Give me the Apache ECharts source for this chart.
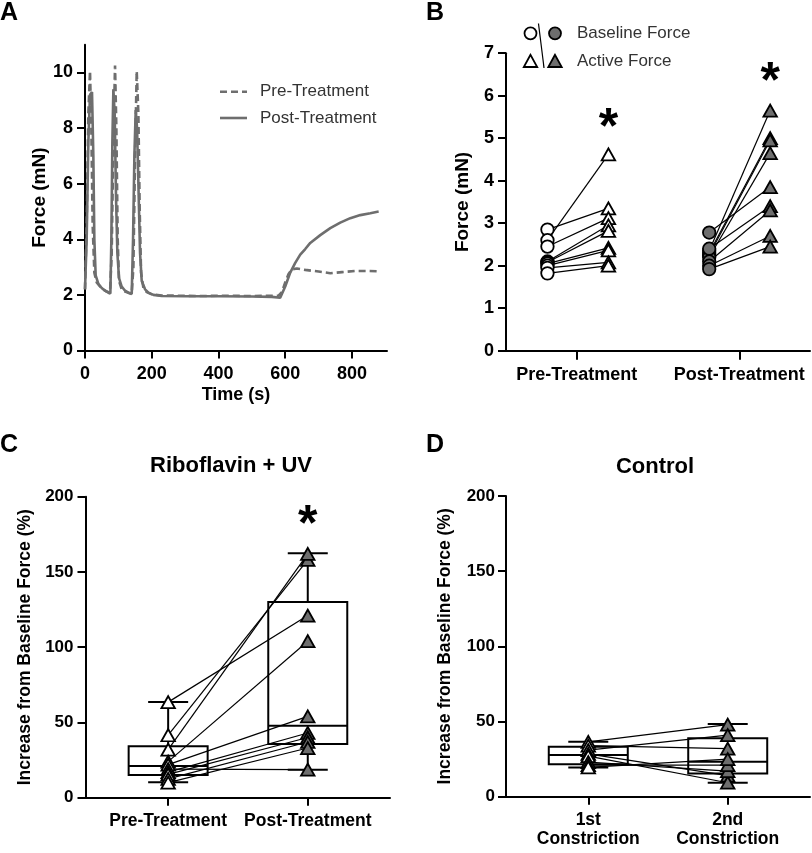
<!DOCTYPE html>
<html>
<head>
<meta charset="utf-8">
<script src="https://cdn.jsdelivr.net/npm/echarts@6/dist/echarts.min.js"></script>
<style>html,body{margin:0;padding:0;background:#fff}#chart{width:812px;height:853px}</style>
</head>
<body>
<div id="chart"></div>
<script>
// ---------- Panel A: force traces ----------
const preTime  = [0,5,10,15,19,23,28,35,45,55,65,75,80,85,90,94,98,102,110,120,130,140,145,150,155,160,164,168,175,185,200,230,280,350,420,500,560,580,590,600,610,620,635,660,700,735,770,810,850,880];
const preForce = [2.2,4.5,8.5,10.05,8.0,4.5,2.8,2.45,2.3,2.2,2.12,2.08,3.5,7.5,10.25,8.0,4.0,2.5,2.2,2.12,2.08,2.05,3.0,7.0,10.05,8.5,5.0,2.8,2.25,2.1,2.02,1.98,1.97,1.96,1.97,1.96,1.97,1.97,2.1,2.45,2.75,2.92,2.95,2.9,2.84,2.78,2.82,2.86,2.86,2.85];
const postTime  = [0,5,10,15,21,25,28,32,40,50,60,70,76,79,82,85,89,93,97,102,110,120,130,140,144,148,152,156,160,165,170,180,190,205,230,300,400,500,560,585,600,615,630,645,660,675,705,735,765,795,825,855,880];
const postForce = [2.2,4.0,7.5,9.2,9.3,7.0,4.0,2.7,2.4,2.25,2.15,2.08,2.05,4.0,7.5,9.4,8.5,5.5,3.5,2.6,2.3,2.15,2.08,2.03,4.0,7.0,8.65,8.0,6.0,3.5,2.5,2.2,2.08,2.0,1.96,1.95,1.95,1.94,1.93,1.9,2.3,2.8,3.15,3.45,3.65,3.87,4.15,4.4,4.6,4.76,4.87,4.94,5.0];
const timeTicks = [0,200,400,600,800];
const forceTicksA = [0,2,4,6,8,10];
const traceNames = ['Pre-Treatment','Post-Treatment'];

// ---------- Panel B: baseline vs active force ----------
const bCategories = ['Pre-Treatment','Post-Treatment'];
const bCatPos = [1,3];
const bPreBase     = [2.85,2.6,2.45,2.1,2.08,2.05,2.0,1.95,1.82];
const bPreActive   = [3.35,4.62,3.12,2.95,2.82,2.42,2.36,2.08,2.0];
const bPostBase    = [2.78,2.35,2.3,2.25,2.2,2.4,2.1,2.0,1.92];
const bPostActive  = [3.85,5.65,5.0,4.95,4.65,3.4,3.3,2.7,2.45];
const bSlotX = [0.64,1.39,2.63,3.38]; // pre-base, pre-active, post-base, post-active
const bLegend = ['Baseline Force','Active Force'];
const bStars = [[1.39,5.47],[3.38,6.55]];

// ---------- Panel C: Riboflavin + UV ----------
const cCategories = ['Pre-Treatment','Post-Treatment'];
const cPre  = [63.5,41.5,32,24,22,19,17,15.5,12.5,10];
const cPost = [121,158,162,104,54,18.6,43,40,37,33];
const cBoxPre  = [10.2,15.1,21.1,34.2,63.6];   // min, Q1, median, Q3, max
const cBoxPost = [18.6,35.7,47.8,130,162.4];
const cStars = [[2,187.5]];

// ---------- Panel D: Control ----------
const dCategories = ['1st\nConstriction','2nd\nConstriction'];
const dFirst  = [36.5,34,31,28.5,27,23,21,19.5];
const dSecond = [48,32,41,14,9.3,17,21,25];
const dBox1 = [19.5,21.6,27.7,33.3,36.6];
const dBox2 = [9.3,15.5,23.3,38.8,48.4];

const FONT = 'Liberation Sans, Arial, Helvetica, sans-serif';
const GRAY = '#6e6e6e';
const zip = (a,b) => a.map((v,i)=>[v,b[i]]);

const chart = echarts.init(document.getElementById('chart'), null, {renderer:'canvas'});

function axisCommon(extra){
  return Object.assign({
    axisLine:{show:true, onZero:false, lineStyle:{color:'#000', width:2}},
    axisTick:{show:true, length:8, lineStyle:{color:'#000', width:2}},
    splitLine:{show:false},
    nameTextStyle:{fontFamily:FONT, fontWeight:'bold', color:'#000'}
  }, extra);
}

const grids = [
  {left:85, top:44.7, width:302, height:305.8},
  {left:506, top:53.2, width:304, height:297.5},
  {left:85.5, top:496.7, width:304.5, height:301},
  {left:506, top:496, width:304, height:300.7}
].map(g=>Object.assign({containLabel:false, outerBoundsMode:'none'}, g));

const xAxes = [
  axisCommon({gridIndex:0, type:'value', min:0, max:905, name:'Time (s)', nameLocation:'middle', nameGap:36,
    nameTextStyle:{fontFamily:FONT, fontWeight:'bold', color:'#000', fontSize:18},
    axisTick:{show:true, length:8, lineStyle:{color:'#000', width:2}, customValues:timeTicks},
    axisLabel:{customValues:timeTicks, fontFamily:FONT, fontWeight:'bold', fontSize:18, color:'#000', margin:15}}),
  axisCommon({gridIndex:1, type:'value', min:0.13, max:3.87,
    axisTick:{show:true, length:9, lineStyle:{color:'#000', width:2}, customValues:bCatPos},
    axisLabel:{customValues:bCatPos, formatter:v=>bCategories[bCatPos.indexOf(v)] || '', fontFamily:FONT, fontWeight:'bold', fontSize:18, color:'#000', margin:15}}),
  axisCommon({gridIndex:2, type:'value', min:0.408, max:2.589,
    axisTick:{show:true, length:8, lineStyle:{color:'#000', width:2}, customValues:[1,2]},
    axisLabel:{customValues:[1,2], formatter:v=>cCategories[v-1] || '', fontFamily:FONT, fontWeight:'bold', fontSize:17.5, color:'#000', margin:14}}),
  axisCommon({gridIndex:3, type:'value', min:0.41, max:2.59,
    axisTick:{show:true, length:8, lineStyle:{color:'#000', width:2}, customValues:[1,2]},
    axisLabel:{customValues:[1,2], formatter:v=>dCategories[v-1] || '', fontFamily:FONT, fontWeight:'bold', fontSize:17.5, lineHeight:19, color:'#000', margin:14}})
];

const yAxes = [
  axisCommon({gridIndex:0, type:'value', min:0, max:11, name:'Force (mN)', nameLocation:'middle', nameGap:33,
    nameTextStyle:{fontFamily:FONT, fontWeight:'bold', color:'#000', fontSize:19},
    axisTick:{show:true, length:8, lineStyle:{color:'#000', width:2}, customValues:forceTicksA},
    axisLabel:{customValues:forceTicksA, fontFamily:FONT, fontWeight:'bold', fontSize:18, color:'#000', margin:12}}),
  axisCommon({gridIndex:1, type:'value', min:0, max:7, interval:1, name:'Force (mN)', nameLocation:'middle', nameGap:34,
    nameTextStyle:{fontFamily:FONT, fontWeight:'bold', color:'#000', fontSize:19},
    axisLabel:{fontFamily:FONT, fontWeight:'bold', fontSize:18, color:'#000', margin:12}}),
  axisCommon({gridIndex:2, type:'value', min:0, max:200, interval:50, name:'Increase from Baseline Force (%)', nameLocation:'middle', nameGap:51,
    nameTextStyle:{fontFamily:FONT, fontWeight:'bold', color:'#000', fontSize:17.5},
    axisLabel:{fontFamily:FONT, fontWeight:'bold', fontSize:17, color:'#000', margin:12}}),
  axisCommon({gridIndex:3, type:'value', min:0, max:200, interval:50, name:'Increase from Baseline Force (%)', nameLocation:'middle', nameGap:52,
    nameTextStyle:{fontFamily:FONT, fontWeight:'bold', color:'#000', fontSize:17.5},
    axisLabel:{fontFamily:FONT, fontWeight:'bold', fontSize:17, color:'#000', margin:11}})
];

const series = [];
const DASH = [7,4];

// Panel A traces
series.push({type:'line', name:traceNames[0], xAxisIndex:0, yAxisIndex:0, data:zip(preTime, preForce),
  symbol:'none', showSymbol:false, lineStyle:{color:GRAY, width:2.6, type:DASH}, itemStyle:{color:GRAY}, z:3, silent:true});
series.push({type:'line', name:traceNames[1], xAxisIndex:0, yAxisIndex:0, data:zip(postTime, postForce),
  symbol:'none', showSymbol:false, lineStyle:{color:GRAY, width:2.6}, itemStyle:{color:GRAY}, z:2, silent:true});

// paired connecting lines
function pairLines(xi, xa, xb, av, bv){
  av.forEach((v,i)=>{
    series.push({type:'line', xAxisIndex:xi, yAxisIndex:xi, data:[[xa,v],[xb,bv[i]]],
      symbol:'none', showSymbol:false, lineStyle:{color:'#000', width:1.2}, z:2, silent:true});
  });
}
pairLines(1, bSlotX[0], bSlotX[1], bPreBase, bPreActive);
pairLines(1, bSlotX[2], bSlotX[3], bPostBase, bPostActive);
pairLines(2, 1, 2, cPre, cPost);
pairLines(3, 1, 2, dFirst, dSecond);

function markers(xi, x, vals, symbol, fill){
  series.push({type:'scatter', xAxisIndex:xi, yAxisIndex:xi, data:vals.map(v=>[x,v]),
    symbol:symbol, symbolSize: symbol==='circle' ? 12.5 : [13.5,12],
    itemStyle:{color:fill, borderColor:'#000', borderWidth:1.8, opacity:1}, z:4, silent:true});
}
markers(1, bSlotX[0], bPreBase, 'circle', '#fff');
markers(1, bSlotX[1], bPreActive, 'triangle', '#fff');
markers(1, bSlotX[2], bPostBase, 'circle', GRAY);
markers(1, bSlotX[3], bPostActive, 'triangle', GRAY);
markers(2, 1, cPre, 'triangle', '#fff');
markers(2, 2, cPost, 'triangle', GRAY);
markers(3, 1, dFirst, 'triangle', '#fff');
markers(3, 2, dSecond, 'triangle', GRAY);

// box plots (custom series using axis coordinates)
function boxSeries(xi, boxes){
  series.push({type:'custom', xAxisIndex:xi, yAxisIndex:xi, z:1, silent:true,
    data: boxes.map((b,i)=>[i+1].concat(b)),
    encode:{x:0, y:[1,2,3,4,5]},
    renderItem:function(params, api){
      const x = api.value(0);
      const pMin = api.coord([x, api.value(1)]);
      const pQ1  = api.coord([x, api.value(2)]);
      const pMed = api.coord([x, api.value(3)]);
      const pQ3  = api.coord([x, api.value(4)]);
      const pMax = api.coord([x, api.value(5)]);
      const cx = pMin[0], hw = 39.5, cw = 20;
      const st = {stroke:'#000', lineWidth:2, fill:null};
      return {type:'group', children:[
        {type:'rect', shape:{x:cx-hw, y:pQ3[1], width:2*hw, height:pQ1[1]-pQ3[1]}, style:{stroke:'#000', lineWidth:2, fill:'rgba(0,0,0,0)'}},
        {type:'line', shape:{x1:cx-hw, y1:pMed[1], x2:cx+hw, y2:pMed[1]}, style:st},
        {type:'line', shape:{x1:cx, y1:pQ3[1], x2:cx, y2:pMax[1]}, style:st},
        {type:'line', shape:{x1:cx, y1:pQ1[1], x2:cx, y2:pMin[1]}, style:st},
        {type:'line', shape:{x1:cx-cw, y1:pMax[1], x2:cx+cw, y2:pMax[1]}, style:st},
        {type:'line', shape:{x1:cx-cw, y1:pMin[1], x2:cx+cw, y2:pMin[1]}, style:st}
      ]};
    }});
}
boxSeries(2, [cBoxPre, cBoxPost]);
boxSeries(3, [dBox1, dBox2]);

// significance asterisks
function stars(xi, pts){
  series.push({type:'scatter', xAxisIndex:xi, yAxisIndex:xi, data:pts, symbolSize:1,
    itemStyle:{color:'rgba(0,0,0,0)', opacity:1}, z:5, silent:true,
    label:{show:true, position:'inside', formatter:'*', fontFamily:FONT, fontWeight:'bold', fontSize:50,
      color:'#000', opacity:1, textBorderWidth:0, offset:[0,11]}});
}
stars(1, bStars);
stars(2, cStars);

const txt = (x,y,text,size,weight,align,color)=>({type:'text', x:x, y:y, silent:true,
  style:{text:text, fontFamily:FONT, fontSize:size, fontWeight:weight||'bold', fill:color||'#000', textAlign:align||'left', textVerticalAlign:'middle'}});

const graphics = [
  txt(0,13,'A',25,'bold'),
  txt(426,13,'B',25,'bold'),
  txt(0,445,'C',25,'bold'),
  txt(426,445,'D',25,'bold'),
  txt(231,466,'Riboflavin + UV',22,'bold','center'),
  txt(655,467,'Control',22,'bold','center'),
  // Panel A legend
  {type:'line', shape:{x1:220, y1:91.7, x2:247, y2:91.7}, style:{stroke:GRAY, lineWidth:2.6, lineDash:DASH}, silent:true},
  {type:'line', shape:{x1:220, y1:118, x2:247, y2:118}, style:{stroke:GRAY, lineWidth:2.6}, silent:true},
  txt(260,91.7,traceNames[0],17,'normal','left','#333'),
  txt(260,118,traceNames[1],17,'normal','left','#333'),
  // Panel B legend
  {type:'circle', shape:{cx:530.5, cy:33.3, r:6}, style:{fill:'#fff', stroke:'#000', lineWidth:1.8}, silent:true},
  {type:'circle', shape:{cx:555, cy:33.3, r:6}, style:{fill:GRAY, stroke:'#000', lineWidth:1.8}, silent:true},
  {type:'line', shape:{x1:538.5, y1:23.5, x2:544, y2:68}, style:{stroke:'#000', lineWidth:1.2}, silent:true},
  {type:'polygon', shape:{points:[[530.5,54.8],[523.8,67],[537.2,67]]}, style:{fill:'#fff', stroke:'#000', lineWidth:1.8}, silent:true},
  {type:'polygon', shape:{points:[[555,54.8],[548.3,67],[561.7,67]]}, style:{fill:GRAY, stroke:'#000', lineWidth:1.8}, silent:true},
  txt(577,33.3,bLegend[0],17,'normal','left','#333'),
  txt(577,61,bLegend[1],17,'normal','left','#333')
];

chart.setOption({
  animation:false,
  backgroundColor:'#fff',
  textStyle:{fontFamily:FONT},
  grid:grids,
  xAxis:xAxes,
  yAxis:yAxes,
  series:series,
  graphic:graphics
});
</script>
</body>
</html>
